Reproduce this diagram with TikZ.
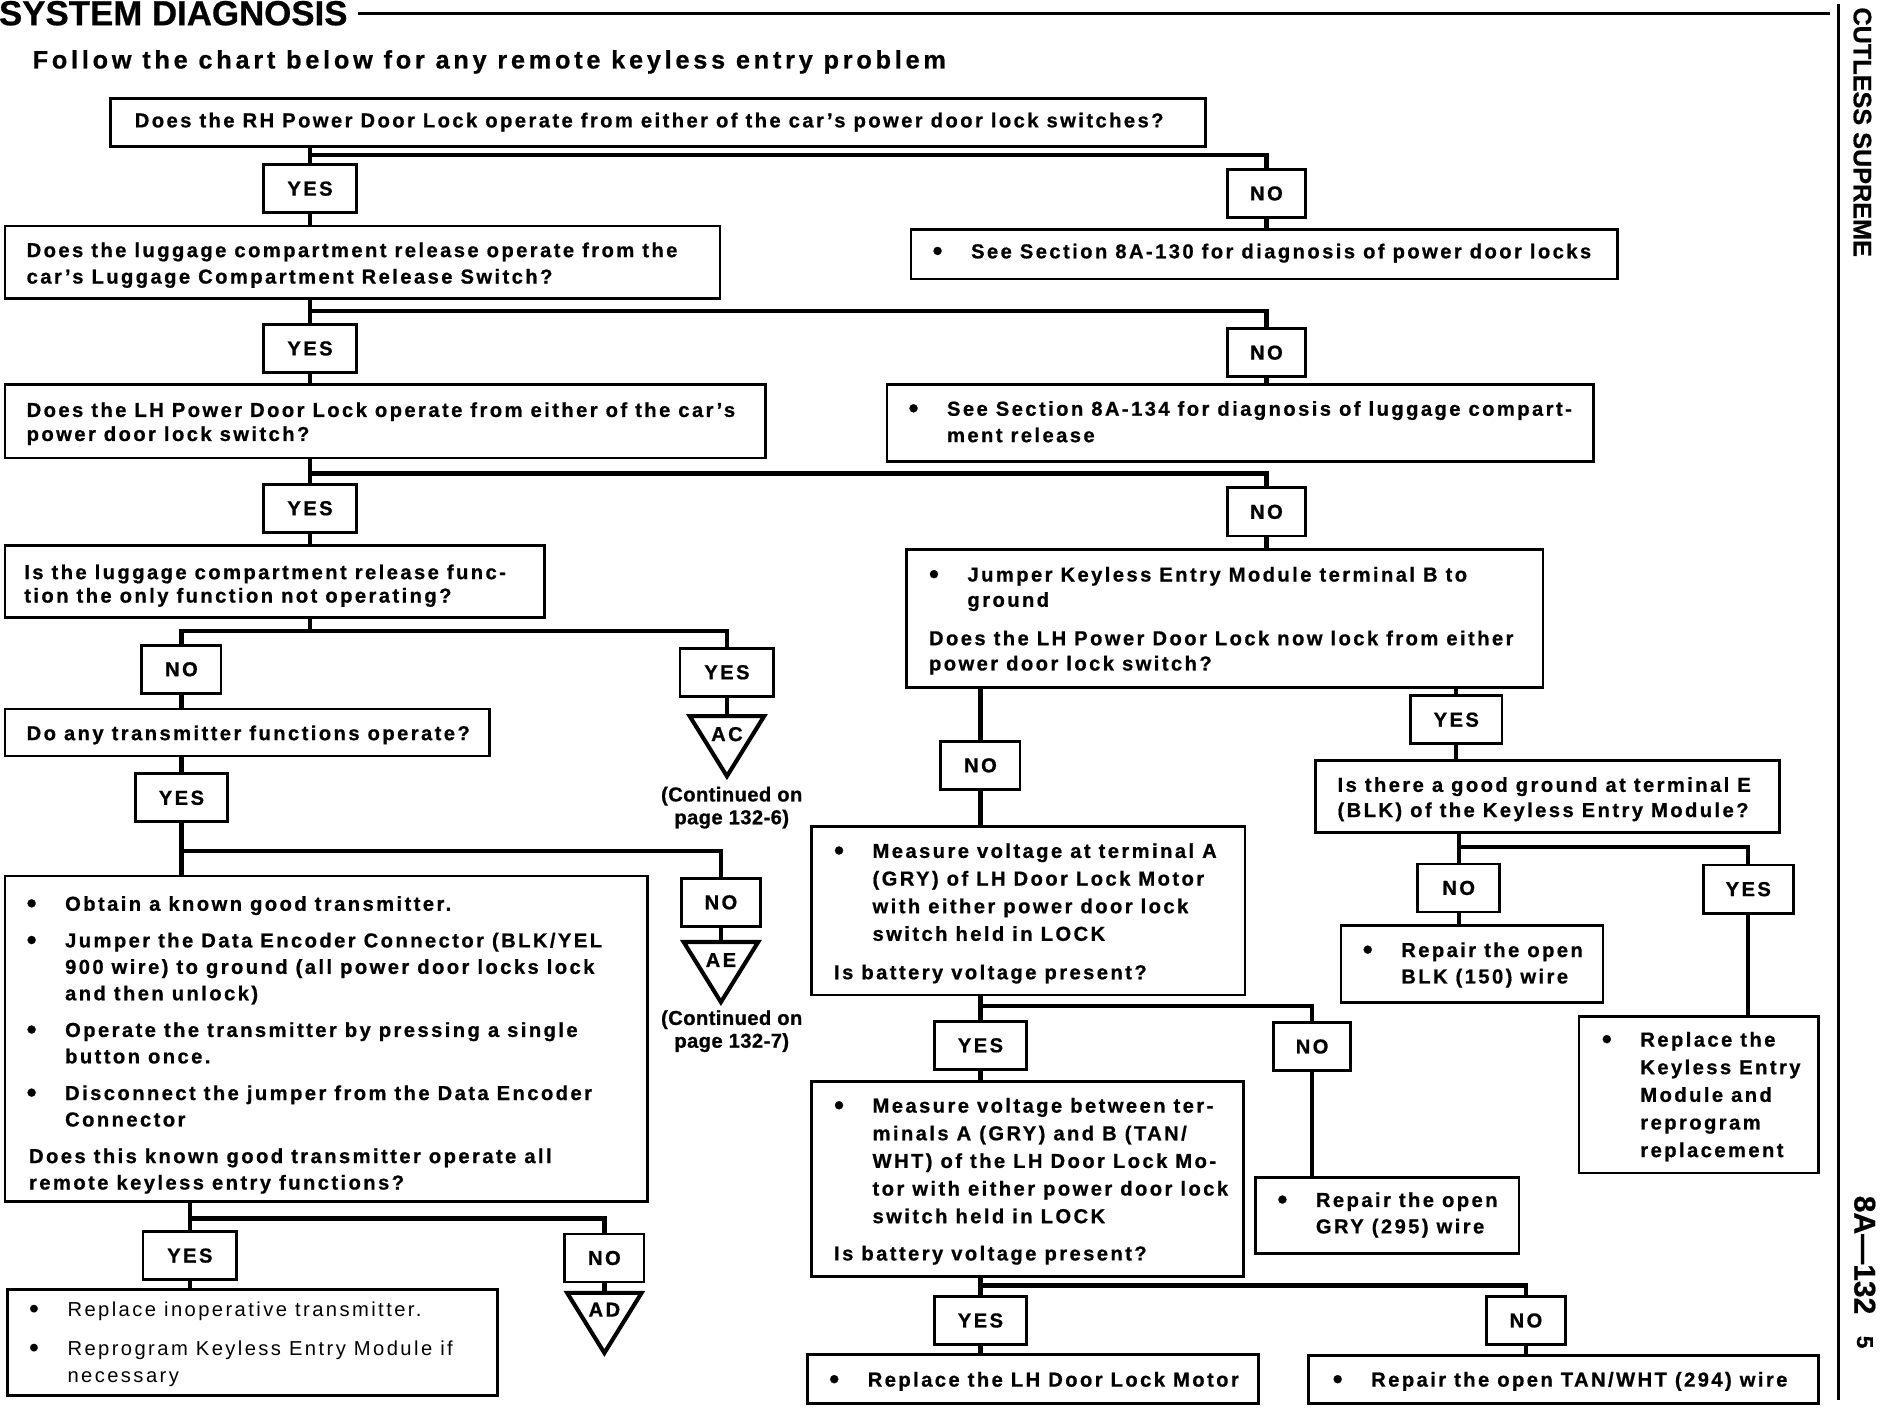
\documentclass[tikz,border=0pt]{standalone}
\usepackage{fontspec}
\setmainfont{Liberation Sans}[LetterSpace=12,BoldFeatures={FakeBold=0.8}]
\newfontfamily\titlefont{Liberation Sans}[BoldFeatures={FakeBold=0.6}]
\newfontfamily\subfont{Liberation Sans}[LetterSpace=15,BoldFeatures={FakeBold=0.8}]
\newfontfamily\contfont{Liberation Sans}[LetterSpace=2,BoldFeatures={FakeBold=0.8}]
\newcommand\bl{\makebox[32pt][l]{\raisebox{-1.6pt}{\scalebox{1.4}{\textbullet}}}}
\newcommand\ind{\hspace*{32pt}}
\begin{document}
\begin{tikzpicture}[x=1pt,y=-1pt,
  box/.style={draw,line width=2.3pt,inner sep=0pt,anchor=north west},
  lab/.style={draw,line width=2.3pt,inner sep=0pt,minimum height=40pt,font=\bfseries\fontsize{16.8}{19}\selectfont},
  conn/.style={line width=3.6pt},
  tri/.style={line width=3.4pt,line join=miter},
  txt/.style={anchor=base west,inner sep=0pt,font=\bfseries\fontsize{16.8}{22}\selectfont},
  cont/.style={anchor=base,inner sep=0pt,font=\contfont\bfseries\fontsize{16.8}{19}\selectfont},
  trilab/.style={inner sep=0pt,font=\bfseries\fontsize{16.8}{19}\selectfont}
]
\fill[white] (0,0) rectangle (1568,1171.8);
\useasboundingbox (0,0) rectangle (1568,1171.8);

% header and side texts
\node[anchor=base west,inner sep=0pt,font=\titlefont\bfseries\fontsize{29}{29}\selectfont] (title) at (-1,21) {SYSTEM DIAGNOSIS};
\draw[line width=2.8pt] (298,11) -- (1523,11);
\draw[line width=2.5pt] (1530,3) -- (1530,1165);
\node[anchor=base west,inner sep=0pt,font=\subfont\bfseries\fontsize{21}{22}\selectfont] (sub) at (27,57) {Follow the chart below for any remote keyless entry problem};
\node[rotate=-90,anchor=west,inner sep=0pt,font=\titlefont\bfseries\fontsize{21}{21}\selectfont] (side1) at (1550,6) {CUTLESS SUPREME};
\node[rotate=-90,anchor=west,inner sep=0pt,font=\titlefont\bfseries\fontsize{25}{25}\selectfont] (side2) at (1552,995) {8A—132};
\node[rotate=-90,inner sep=0pt,font=\titlefont\bfseries\fontsize{19}{19}\selectfont] (side3) at (1552,1117) {5};

% ---------- boxes ----------
\node[box,minimum width=911pt,minimum height=40pt] (q1) at (91,81) {};
\node[txt] (q1t) at (112,106) {Does the RH Power Door Lock operate from either of the car's power door lock switches?};

\node[lab,minimum width=77pt] (yes1) at (258,157) {YES};
\node[lab,minimum width=65pt] (no1) at (1054,161) {NO};

\node[box,minimum width=588pt,minimum height=41pt] (n1) at (757,190) {};
\node[txt] (n1t) at (776,215) {\bl See Section 8A-130 for diagnosis of power door locks};

\node[box,minimum width=595pt,minimum height=60pt] (q2) at (3,187) {};
\node[txt] (q2t) at (22,214) {\parbox[t]{700pt}{Does the luggage compartment release operate from the\\car's Luggage Compartment Release Switch?}};

\node[lab,minimum width=77pt] (yes2) at (258,290) {YES};
\node[lab,minimum width=65pt] (no2) at (1054,293.5) {NO};

\node[box,minimum width=588pt,minimum height=64pt] (n2) at (737,319) {};
\node[txt] (n2t) at (756,346) {\parbox[t]{700pt}{\bl See Section 8A-134 for diagnosis of luggage compart-\\\ind ment release}};

\node[box,minimum width=633pt,minimum height=61pt] (q3) at (3,319) {};
\node[txt] (q3t) at (22,347) {\parbox[t]{700pt}{\baselineskip=20pt Does the LH Power Door Lock operate from either of the car's\\power door lock switch?}};

\node[lab,minimum width=77pt] (yes3) at (258,423) {YES};
\node[lab,minimum width=65pt] (no3) at (1054,426) {NO};

\node[box,minimum width=449pt,minimum height=60pt] (q4) at (3,453) {};
\node[txt] (q4t) at (20,482) {\parbox[t]{600pt}{\baselineskip=19.5pt Is the luggage compartment release func-\\tion the only function not operating?}};

\node[box,minimum width=530pt,minimum height=115pt] (j) at (753,456) {};
\node[txt] (jt) at (773,484) {\parbox[t]{600pt}{\baselineskip=21pt \bl Jumper Keyless Entry Module terminal B to\\\ind ground\\[11pt]Does the LH Power Door Lock now lock from either\\power door lock switch?}};

\node[lab,minimum width=66pt] (no4) at (151,557) {NO};
\node[lab,minimum width=78pt] (yes4) at (605,559.5) {YES};

\coordinate (actop) at (605,596);
\draw[tri] (574,596) -- (636,596) -- (605,646) -- cycle;
\node[trilab] (ac) at (605,611) {AC};
\node[cont] (c1) at (609,667) {\parbox[t]{160pt}{\centering (Continued on\\page 132-6)}};

\node[box,minimum width=403pt,minimum height=39pt] (q5) at (3,589) {};
\node[txt] (q5t) at (22,616) {Do any transmitter functions operate?};

\node[lab,minimum width=77pt] (yes5) at (151,664) {YES};
\node[lab,minimum width=66pt] (no6) at (600,751) {NO};

\coordinate (aetop) at (600,784);
\draw[tri] (569,784) -- (631,784) -- (600,834) -- cycle;
\node[trilab] (ae) at (600,799) {AE};
\node[cont] (c2) at (609,853) {\parbox[t]{160pt}{\centering (Continued on\\page 132-7)}};

\node[box,minimum width=535pt,minimum height=271pt] (bb) at (3,728) {};
\node[txt] (bbt) at (22,758) {\parbox[t]{700pt}{%
\bl Obtain a known good transmitter.\\[8.5pt]%
\bl Jumper the Data Encoder Connector (BLK/YEL\\\ind 900 wire) to ground (all power door locks lock\\\ind and then unlock)\\[8.5pt]%
\bl Operate the transmitter by pressing a single\\\ind button once.\\[8.5pt]%
\bl Disconnect the jumper from the Data Encoder\\\ind Connector\\[8.5pt]%
\hspace*{2pt}Does this known good transmitter operate all\\\hspace*{2pt}remote keyless entry functions?}};

\node[lab,minimum width=78pt] (yes7) at (158,1045) {YES};
\node[lab,minimum width=66pt] (no7) at (503,1047) {NO};

\coordinate (adtop) at (503,1076);
\draw[tri] (472,1076) -- (534,1076) -- (503,1126) -- cycle;
\node[trilab] (ad) at (503,1090) {AD};

\node[box,minimum width=408pt,minimum height=88pt] (y7) at (5,1072) {};
\node[txt,font=\fontsize{16.8}{23}\selectfont] (y7t) at (24,1096) {\parbox[t]{500pt}{\bl Replace inoperative transmitter.\\[9pt]\bl Reprogram Keyless Entry Module if\\\ind necessary}};

\node[lab,minimum width=66pt] (no8) at (816,637) {NO};

\node[box,minimum width=361pt,minimum height=140pt] (m1) at (674,687) {};
\node[txt] (m1t) at (694,714) {\parbox[t]{600pt}{\baselineskip=23pt \bl Measure voltage at terminal A\\\ind (GRY) of LH Door Lock Motor\\\ind with either power door lock\\\ind switch held in LOCK\\[9pt]Is battery voltage present?}};

\node[lab,minimum width=76pt] (yes8) at (1212,599) {YES};

\node[box,minimum width=386pt,minimum height=60pt] (q9) at (1094,632) {};
\node[txt] (q9t) at (1113,659) {\parbox[t]{600pt}{\baselineskip=21pt Is there a good ground at terminal E\\(BLK) of the Keyless Entry Module?}};

\node[lab,minimum width=68pt] (no9) at (1214,739) {NO};
\node[lab,minimum width=75pt] (yes9) at (1455,740) {YES};

\node[box,minimum width=218pt,minimum height=64pt] (r1) at (1115,769) {};
\node[txt] (r1t) at (1134,796.5) {\parbox[t]{300pt}{\bl Repair the open\\\ind BLK (150) wire}};

\node[box,minimum width=199pt,minimum height=130pt] (r2) at (1313,845) {};
\node[txt] (r2t) at (1333,871) {\parbox[t]{300pt}{\baselineskip=23pt \bl Replace the\\\ind Keyless Entry\\\ind Module and\\\ind reprogram\\\ind replacement}};

\node[lab,minimum width=76pt] (yes10) at (816,870) {YES};
\node[lab,minimum width=64pt] (no10) at (1092,871) {NO};

\node[box,minimum width=219pt,minimum height=63pt] (r3) at (1044,979) {};
\node[txt] (r3t) at (1063,1004.5) {\parbox[t]{300pt}{\bl Repair the open\\\ind GRY (295) wire}};

\node[box,minimum width=360pt,minimum height=162pt] (m2) at (674,899) {};
\node[txt] (m2t) at (694,926) {\parbox[t]{600pt}{\baselineskip=23pt \bl Measure voltage between ter-\\\ind minals A (GRY) and B (TAN/\\\ind WHT) of the LH Door Lock Mo-\\\ind tor with either power door lock\\\ind switch held in LOCK\\[8pt]Is battery voltage present?}};

\node[lab,minimum width=76pt] (yes11) at (816,1099) {YES};
\node[lab,minimum width=66pt] (no11) at (1270,1099) {NO};

\node[box,minimum width=375pt,minimum height=41pt] (r4) at (671,1126) {};
\node[txt] (r4t) at (690,1154) {\bl Replace the LH Door Lock Motor};

\node[box,minimum width=424pt,minimum height=40pt] (r5) at (1088,1127) {};
\node[txt] (r5t) at (1109,1154) {\bl Repair the open TAN/WHT (294) wire};

% ---------- connectors ----------
\coordinate (b1) at (258,129);
\coordinate (b2) at (258,259);
\coordinate (b3) at (258,394);
\coordinate (b4) at (258,525);
\coordinate (b5) at (151,708);
\coordinate (b6) at (158,1014);
\coordinate (b9) at (1214,705);
\coordinate (b10) at (816,837);
\coordinate (b11) at (816,1070);

\draw[conn] (yes1.north |- q1.south) -- (yes1.north);
\draw[conn] (b1) -| (no1.north);
\draw[conn] (no1.south) -- (no1.south |- n1.north);
\draw[conn] (yes1.south) -- (yes1.south |- q2.north);

\draw[conn] (yes2.north |- q2.south) -- (yes2.north);
\draw[conn] (b2) -| (no2.north);
\draw[conn] (no2.south) -- (no2.south |- n2.north);
\draw[conn] (yes2.south) -- (yes2.south |- q3.north);

\draw[conn] (yes3.north |- q3.south) -- (yes3.north);
\draw[conn] (b3) -| (no3.north);
\draw[conn] (no3.south) -- (no3.south |- j.north);
\draw[conn] (yes3.south) -- (yes3.south |- q4.north);

\draw[conn] (b4 |- q4.south) -- (b4);
\draw[conn] (no4.north) |- (b4) -| (yes4.north);
\draw[conn] (yes4.south) -- (actop);
\draw[conn] (no4.south) -- (no4.south |- q5.north);

\draw[conn] (yes5.north |- q5.south) -- (yes5.north);
\draw[conn] (yes5.south) -- (yes5.south |- bb.north);
\draw[conn] (b5) -| (no6.north);
\draw[conn] (no6.south) -- (aetop);

\draw[conn] (yes7.north |- bb.south) -- (yes7.north);
\draw[conn] (b6) -| (no7.north);
\draw[conn] (yes7.south) -- (yes7.south |- y7.north);
\draw[conn] (no7.south) -- (adtop);

\draw[conn] (no8.north |- j.south) -- (no8.north);
\draw[conn] (no8.south) -- (no8.south |- m1.north);
\draw[conn] (yes8.north |- j.south) -- (yes8.north);
\draw[conn] (yes8.south) -- (yes8.south |- q9.north);

\draw[conn] (no9.north |- q9.south) -- (no9.north);
\draw[conn] (b9) -| (yes9.north);
\draw[conn] (no9.south) -- (no9.south |- r1.north);
\draw[conn] (yes9.south) -- (yes9.south |- r2.north);

\draw[conn] (yes10.north |- m1.south) -- (yes10.north);
\draw[conn] (b10) -| (no10.north);
\draw[conn] (no10.south) -- (no10.south |- r3.north);
\draw[conn] (yes10.south) -- (yes10.south |- m2.north);

\draw[conn] (yes11.north |- m2.south) -- (yes11.north);
\draw[conn] (b11) -| (no11.north);
\draw[conn] (yes11.south) -- (yes11.south |- r4.north);
\draw[conn] (no11.south) -- (no11.south |- r5.north);
\end{tikzpicture}
\end{document}
